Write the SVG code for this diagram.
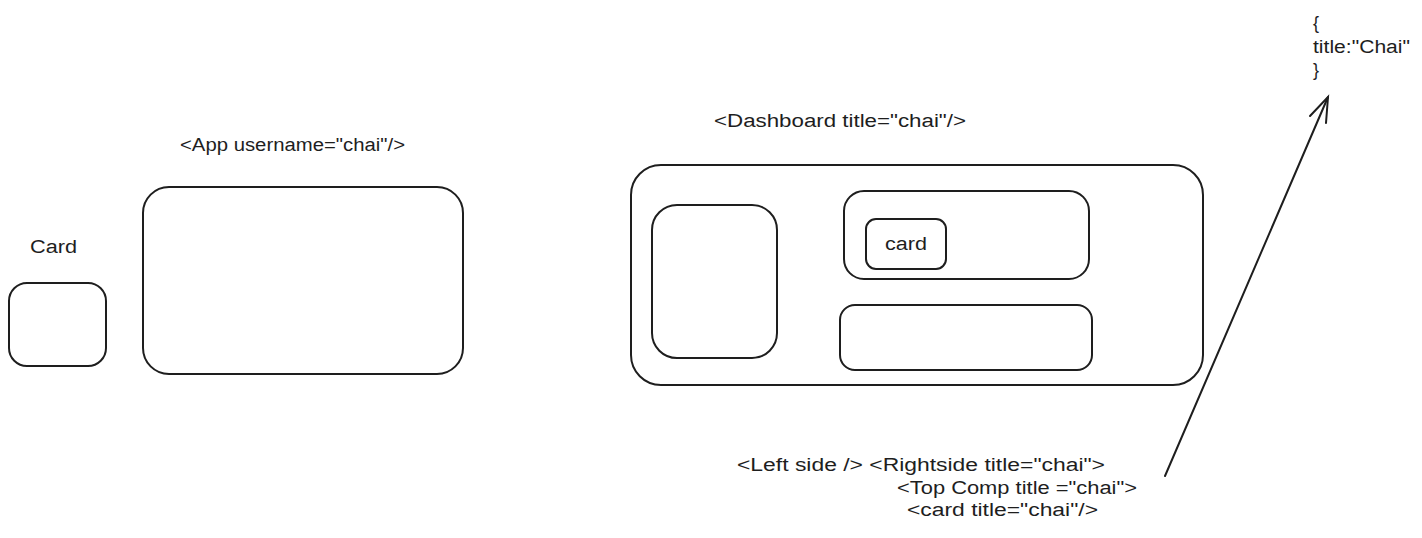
<svg xmlns="http://www.w3.org/2000/svg" width="1422" height="538" viewBox="0 0 1422 538">
<style>
.box{fill:none;stroke:#1e1e1e;stroke-width:2;stroke-linecap:round;stroke-linejoin:round}
.t{font-family:"Liberation Sans",Arial,sans-serif;font-size:18px;fill:#1e1e1e}
.c{fill:none;stroke:#1e1e1e;stroke-width:2;stroke-linecap:round}
</style>
<rect width="1422" height="538" fill="#ffffff"/>
<g id="card-left">
<text class="t" x="30" y="253" textLength="47" lengthAdjust="spacingAndGlyphs">Card</text>
<rect class="box" x="9" y="283" width="97" height="83" rx="18"/>
</g>
<g id="app">
<text class="t" x="180" y="151" textLength="225" lengthAdjust="spacingAndGlyphs">&lt;App username="chai"/&gt;</text>
<rect class="box" x="143" y="187" width="320" height="187" rx="26"/>
</g>
<g id="dashboard">
<text class="t" x="714" y="127" textLength="252" lengthAdjust="spacingAndGlyphs">&lt;Dashboard title="chai"/&gt;</text>
<rect class="box" x="631" y="165" width="572" height="220" rx="30"/>
</g>
<g id="left-side">
<rect class="box" x="652" y="205" width="125" height="153" rx="25"/>
</g>
<g id="top-comp">
<rect class="box" x="844" y="191" width="245" height="88" rx="20"/>
</g>
<g id="inner-card">
<rect class="box" x="866" y="219" width="80" height="50" rx="10"/>
<text class="t" x="885" y="250" textLength="42" lengthAdjust="spacingAndGlyphs">card</text>
</g>
<g id="bottom-box">
<rect class="box" x="840" y="305" width="252" height="65" rx="15"/>
</g>
<g id="labels">
<text class="t" x="737" y="471" textLength="368" lengthAdjust="spacingAndGlyphs">&lt;Left side /&gt; &lt;Rightside title="chai"&gt;</text>
<text class="t" x="897" y="494" textLength="240" lengthAdjust="spacingAndGlyphs">&lt;Top Comp title ="chai"&gt;</text>
<text class="t" x="907" y="516" textLength="191" lengthAdjust="spacingAndGlyphs">&lt;card title="chai"/&gt;</text>
</g>
<g id="props">
<text class="t" x="1313" y="29">{</text>
<text class="t" x="1313" y="53" textLength="97" lengthAdjust="spacingAndGlyphs">title:"Chai"</text>
<text class="t" x="1313" y="76">}</text>
</g>
<g id="connectors">
<path class="c" d="M1165 476 L1328 97"/>
<path class="c" d="M1310 116 L1328 97 L1326 123"/>
</g>
</svg>
